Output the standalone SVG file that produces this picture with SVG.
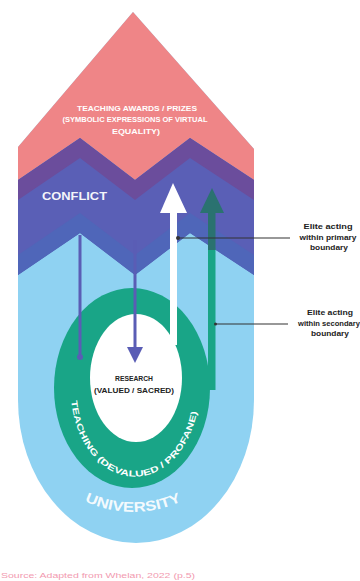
<svg xmlns="http://www.w3.org/2000/svg" width="360" height="581" viewBox="0 0 360 581">
<style>
.w{fill:#ffffff;font-family:"Liberation Sans",Arial,sans-serif;font-weight:bold}
.d{fill:#222222;font-family:"Liberation Sans",Arial,sans-serif;font-weight:bold}
.lead{stroke:#333333;stroke-width:1.2;fill:none}
</style>
<defs>
<path id="ringPath" d="M71.4,400.9 A64,86 0 0 0 198.9,387.5"/>
<path id="uniPath" d="M34.3,455 A114,114 0 0 0 231.7,455"/>
</defs>
<rect width="360" height="581" fill="#ffffff"/>
<g id="university">
<path d="M18,147 L133,12 L254,149 L254,400 A118,143 0 0 1 18,400 Z" fill="#8fd2f2"/>
<text class="w" font-size="14" fill-opacity="0.92"><textPath href="#uniPath" startOffset="50%" text-anchor="middle" textLength="100" lengthAdjust="spacingAndGlyphs">UNIVERSITY</textPath></text>
</g>
<g id="awards">
<path d="M18,147 L133,12 L254,149 L254,180 L190,138 L135,180 L80,138 L18,180 Z" fill="#ef8587"/>
<text class="w" font-size="6.5" text-anchor="middle" x="137" y="110.5" textLength="120" lengthAdjust="spacingAndGlyphs">TEACHING AWARDS / PRIZES</text>
<text class="w" font-size="6.5" text-anchor="middle" x="135" y="122" textLength="145" lengthAdjust="spacingAndGlyphs">(SYMBOLIC EXPRESSIONS OF VIRTUAL</text>
<text class="w" font-size="6.5" text-anchor="middle" x="136" y="133.5" textLength="48" lengthAdjust="spacingAndGlyphs">EQUALITY)</text>
</g>
<g id="conflict">
<path d="M18,180 L80,138 L135,180 L190,138 L254,180 L254,275 L190,233 L135,275 L80,233 L18,275 Z" fill="#5a5fb6"/>
<path d="M18,180 L80,138 L135,180 L190,138 L254,180 L254,200 L190,158 L135,200 L80,158 L18,200 Z" fill="#6b4d9c"/>
<path d="M18,255 L80,213 L135,255 L190,213 L254,255 L254,275 L190,233 L135,275 L80,233 L18,275 Z" fill="#4f66b9"/>
<text class="w" font-size="11" x="42" y="200" textLength="65" lengthAdjust="spacingAndGlyphs" fill-opacity="0.95">CONFLICT</text>
</g>
<g id="teaching">
<ellipse cx="132" cy="388" rx="78" ry="100" fill="#19a587"/>
<rect x="208" y="248" width="7.5" height="142" fill="#19a587"/>
<text class="w" font-size="8.5"><textPath href="#ringPath" textLength="205" lengthAdjust="spacingAndGlyphs">TEACHING (DEVALUED / PROFANE)</textPath></text>
</g>
<g id="research">
<ellipse cx="136" cy="378" rx="46" ry="64" fill="#ffffff"/>
<text class="d" font-size="6.5" text-anchor="middle" x="134" y="381" textLength="38" lengthAdjust="spacingAndGlyphs">RESEARCH</text>
<text class="d" font-size="6.5" text-anchor="middle" x="134" y="393" textLength="80" lengthAdjust="spacingAndGlyphs">(VALUED / SACRED)</text>
</g>
<g id="connectors">
<line x1="80" y1="235" x2="80" y2="357" stroke="#5a5db5" stroke-width="3"/>
<circle cx="80" cy="357" r="3" fill="#5a5db5"/>
<line x1="135" y1="240" x2="135" y2="349" stroke="#5a5db5" stroke-width="3"/>
<polygon points="127,347 143,347 135,363" fill="#5a5db5"/>
<rect x="170" y="210" width="7" height="135" fill="#ffffff"/>
<polygon points="173,183 187,213 160,213" fill="#ffffff"/>
<rect x="208" y="210" width="7.5" height="40" fill="#2a7270"/>
<polygon points="212,188 224,213 200,213" fill="#2a7270"/>
<line class="lead" x1="178" y1="238" x2="290" y2="238"/>
<circle cx="178" cy="238" r="2" fill="#333333"/>
<line class="lead" x1="215.5" y1="324" x2="288" y2="324"/>
<circle cx="215.5" cy="324" r="1.5" fill="#333333"/>
</g>
<g id="label-primary">
<text class="d" font-size="7" text-anchor="middle" x="328" y="229" textLength="49" lengthAdjust="spacingAndGlyphs">Elite acting</text>
<text class="d" font-size="7" text-anchor="middle" x="328" y="239.5" textLength="57" lengthAdjust="spacingAndGlyphs">within primary</text>
<text class="d" font-size="6.5" font-weight="normal" text-anchor="middle" x="329" y="250" textLength="38" lengthAdjust="spacingAndGlyphs">boundary</text>
</g>
<g id="label-secondary">
<text class="d" font-size="7" text-anchor="middle" x="330" y="315" textLength="46" lengthAdjust="spacingAndGlyphs">Elite acting</text>
<text class="d" font-size="7" text-anchor="middle" x="329" y="325.5" textLength="62" lengthAdjust="spacingAndGlyphs">within secondary</text>
<text class="d" font-size="6.5" font-weight="normal" text-anchor="middle" x="330" y="336" textLength="38" lengthAdjust="spacingAndGlyphs">boundary</text>
</g>
<g id="source">
<text x="1" y="578" font-family="Liberation Sans, Arial, sans-serif" font-size="8" fill="#f29ab0" textLength="194" lengthAdjust="spacingAndGlyphs">Source: Adapted from Whelan, 2022 (p.5)</text>
</g>
</svg>
